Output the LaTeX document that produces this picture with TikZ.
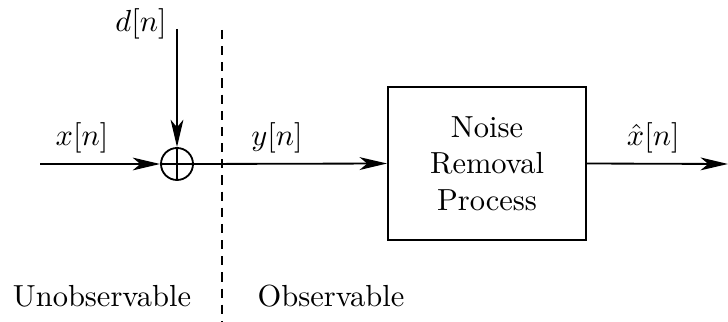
\documentclass[tikz,border=0pt]{standalone}
\usepackage{amsmath}
\usetikzlibrary{arrows.meta}

\begin{document}
\begin{tikzpicture}[x=0.328pt, y=-0.328pt, line width=0.6pt,
    >={Stealth[length=9pt, width=4.2pt, inset=2.5pt]},
    sumnode/.style={draw, circle, minimum size=10.5pt, inner sep=0pt},
    blockbox/.style={draw, rectangle, minimum width=65pt, minimum height=50pt, align=center}]
  \useasboundingbox (0,0) rectangle (728,322);

  % 输入
  \coordinate (in) at (40,164);
  \coordinate (dtop) at (177,29);
  \node (dlabel) at (141,24) {$d[n]$};

  % 加法器
  \node[sumnode] (sum) at (177,164) {};
  \draw (sum.north) -- (sum.south);
  \draw (sum.west) -- (sum.east);
  \draw[->] (in) -- (sum.west) node[pos=0.35, above] {$x[n]$};
  \draw[->] (dtop) -- (sum.north);

  % 处理模块
  \node[blockbox] (nrp) at (487,163.5) {Noise\\Removal\\Process};
  \draw[->] (sum.east) -- (nrp.west) node[pos=0.43, above] {$y[n]$};

  % 输出
  \coordinate (out) at (728,164);
  \draw[->] (nrp.east) -- (out) node[pos=0.47, above] {$\hat{x}[n]$};

  % 分界线
  \coordinate (divtop) at (222,30);
  \coordinate (divbot) at (222,322);
  \draw[dash pattern=on 3pt off 2.3pt] (divtop) -- (divbot);
  \node (unobs) at (102,296) {Unobservable};
  \node (obs) at (331,296) {Observable};
\end{tikzpicture}
\end{document}
